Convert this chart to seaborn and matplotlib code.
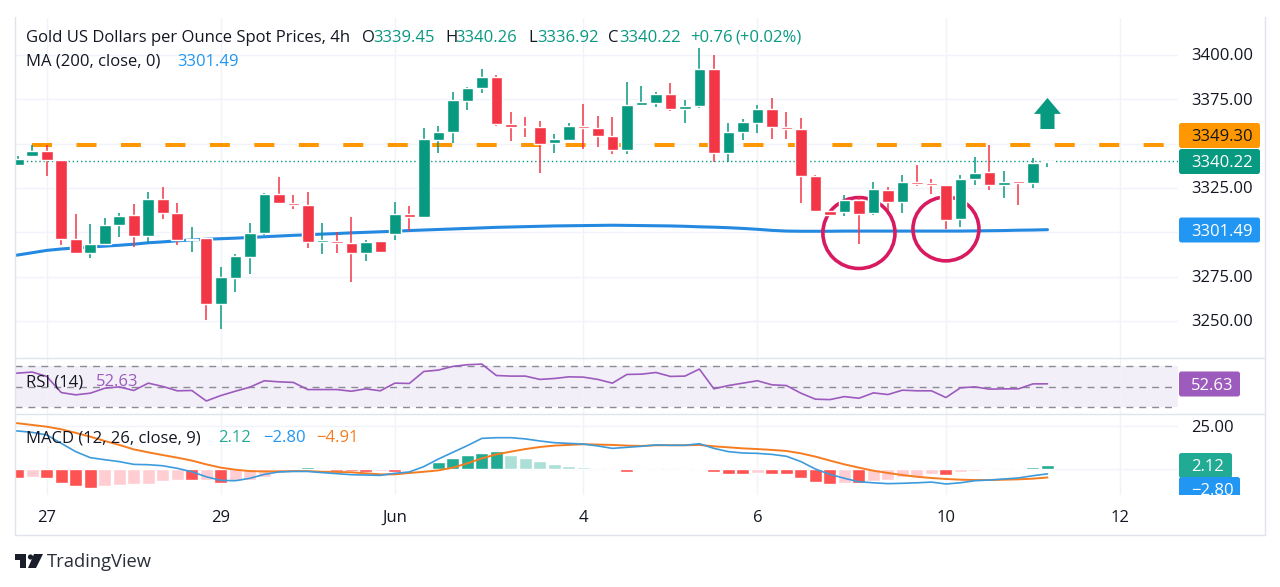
import numpy as np
import pandas as pd
import seaborn as sns
import matplotlib.pyplot as plt
from matplotlib.lines import Line2D
from matplotlib.patches import Ellipse, FancyArrow, FancyBboxPatch, Rectangle, Circle, Polygon
from matplotlib.transforms import IdentityTransform, Bbox

# candles
opens = [3338.0, 3342.8, 3345.9, 3341.0, 3296.0, 3288.3, 3293.2, 3304.3, 3309.6, 3297.7, 3319.0, 3311.1,
         3295.7, 3296.8, 3259.4, 3274.4, 3286.3, 3299.6, 3321.6, 3316.5, 3315.6, 3294.7, 3294.9, 3294.2,
         3288.5, 3294.9, 3299.2, 3310.3, 3308.6, 3352.2, 3356.4, 3374.2, 3381.6, 3387.4, 3361.3, 3360.1,
         3359.2, 3350.4, 3352.2, 3360.1, 3358.8, 3354.3, 3346.4, 3371.6, 3373.1, 3378.0, 3369.7, 3371.4,
         3392.1, 3344.5, 3356.4, 3361.6, 3369.7, 3359.6, 3358.3, 3331.8, 3312.2, 3311.4, 3318.0, 3310.7,
         3323.9, 3317.3, 3328.6, 3327.8, 3326.7, 3307.5, 3330.1, 3333.8, 3326.5, 3328.8, 3327.8, 3339.45]
highs = [3343.2, 3349.2, 3349.2, 3341.0, 3310.3, 3304.7, 3308.1, 3310.7, 3315.8, 3322.5, 3325.7, 3316.3,
         3303.2, 3296.8, 3280.2, 3287.6, 3305.4, 3322.0, 3331.4, 3321.0, 3322.5, 3305.1, 3300.0, 3308.6,
         3295.5, 3295.3, 3316.9, 3315.0, 3358.8, 3360.0, 3379.1, 3382.1, 3392.1, 3388.7, 3367.9, 3365.2,
         3363.0, 3355.4, 3361.5, 3372.4, 3365.6, 3365.0, 3384.6, 3382.5, 3378.9, 3384.2, 3374.6, 3404.0,
         3400.0, 3361.5, 3363.7, 3372.0, 3375.9, 3367.9, 3364.3, 3332.3, 3312.2, 3321.2, 3319.7, 3328.6,
         3325.7, 3332.3, 3338.1, 3329.9, 3326.7, 3332.1, 3342.7, 3349.2, 3334.6, 3328.8, 3341.7, 3340.26]
lows = [3338.0, 3342.8, 3331.9, 3292.6, 3288.3, 3285.5, 3293.2, 3297.5, 3291.9, 3294.1, 3307.3, 3292.6,
        3288.7, 3250.5, 3245.6, 3266.2, 3276.5, 3298.5, 3316.0, 3313.2, 3291.3, 3287.6, 3288.5, 3271.8,
        3283.6, 3288.9, 3295.7, 3300.9, 3308.6, 3344.9, 3350.6, 3369.0, 3378.4, 3360.0, 3351.3, 3353.6,
        3333.3, 3344.9, 3352.1, 3346.8, 3347.9, 3344.2, 3344.2, 3371.2, 3370.9, 3368.2, 3361.5, 3369.9,
        3339.7, 3339.7, 3352.1, 3356.2, 3352.8, 3352.4, 3316.7, 3311.6, 3309.4, 3309.4, 3293.4, 3309.6,
        3312.6, 3310.7, 3326.1, 3321.8, 3301.7, 3302.8, 3326.5, 3323.9, 3319.5, 3315.4, 3324.8, 3336.92]
closes = [3341.2, 3345.9, 3341.0, 3296.0, 3288.3, 3293.4, 3304.3, 3309.2, 3297.7, 3319.0, 3310.9, 3295.7,
          3296.4, 3259.8, 3274.6, 3286.4, 3299.8, 3321.8, 3316.3, 3315.4, 3294.5, 3295.5, 3294.0, 3288.5,
          3294.7, 3289.1, 3310.3, 3308.6, 3352.4, 3356.4, 3374.4, 3381.6, 3387.4, 3361.1, 3359.6, 3359.4,
          3350.0, 3352.4, 3360.0, 3358.8, 3354.3, 3346.4, 3371.8, 3373.5, 3378.0, 3369.7, 3371.0, 3392.1,
          3344.5, 3356.4, 3362.0, 3369.7, 3359.2, 3358.3, 3332.0, 3312.2, 3309.8, 3318.0, 3310.5, 3324.2,
          3317.3, 3328.6, 3327.1, 3326.9, 3307.1, 3330.3, 3333.5, 3326.5, 3328.6, 3328.0, 3339.3, 3340.22]
# the indicator lines start one bar before the first visible candle
ma200 = [3286.4, 3287.2, 3288.5, 3289.8, 3290.6, 3291.2, 3291.7, 3292.2, 3292.7, 3293.3, 3294.1, 3294.6, 3295.2,
         3295.7, 3296.1, 3296.4, 3296.7, 3297.1, 3297.5, 3297.9, 3298.3, 3298.6, 3299.0, 3299.3, 3299.7,
         3300.0, 3300.3, 3300.6, 3301.0, 3301.3, 3301.6, 3301.9, 3302.2, 3302.5, 3302.8, 3303.0, 3303.2,
         3303.4, 3303.6, 3303.7, 3303.8, 3303.9, 3304.0, 3303.9, 3303.8, 3303.7, 3303.6, 3303.4, 3303.1,
         3302.9, 3302.6, 3302.2, 3301.7, 3301.1, 3300.7, 3300.6, 3300.6, 3300.6, 3300.7, 3300.7, 3300.7,
         3300.7, 3300.7, 3300.7, 3300.7, 3300.7, 3300.7, 3300.8, 3300.9, 3301.0, 3301.2, 3301.3, 3301.49]
rsi = [62.5, 63.0, 64.0, 59.8, 44.2, 42.0, 43.6, 48.4, 49.7, 46.2, 53.3, 50.1, 45.9,
       46.2, 36.1, 41.3, 45.5, 49.4, 55.6, 54.6, 54.0, 47.1, 47.1, 47.1, 45.5,
       47.8, 45.9, 53.3, 53.0, 64.6, 65.9, 69.5, 71.1, 71.7, 60.7, 60.1, 60.1,
       56.9, 57.8, 59.4, 59.1, 56.9, 53.3, 61.7, 62.0, 63.6, 59.8, 60.1, 66.9,
       47.8, 51.0, 53.3, 55.6, 51.7, 51.0, 43.6, 37.8, 37.4, 40.3, 38.7, 43.9,
       42.3, 46.5, 45.9, 45.9, 39.4, 48.8, 49.7, 47.5, 47.8, 47.8, 52.6, 52.63]
macd_line = [22.6, 22.1, 21.3, 19.8, 14.9, 10.1, 6.6, 5.4, 4.3, 2.7, 2.5, 1.9, 0.4,
             -1.6, -4.5, -6.6, -6.8, -5.4, -3.1, -1.7, -1.4, -1.4, -2.1, -2.7, -3.3,
             -3.5, -3.7, -2.5, -1.7, 1.4, 5.8, 9.7, 13.6, 17.8, 18.2, 18.2, 17.5,
             16.3, 15.3, 14.9, 14.5, 13.4, 12.0, 12.6, 13.2, 14.0, 13.8, 13.8, 14.7,
             12.0, 10.1, 9.3, 9.1, 8.5, 7.4, 4.3, 0.0, -3.1, -5.4, -7.4, -8.0,
             -8.5, -8.3, -8.0, -7.6, -8.7, -8.0, -6.8, -6.4, -5.8, -5.2, -3.9, -2.80]
signal_line = [27.1, 26.6, 25.6, 24.6, 23.1, 21.0, 18.8, 16.3, 14.0, 11.4, 9.7, 8.1, 6.6,
               4.9, 2.7, 0.8, -0.4, -1.2, -1.4, -1.4, -1.2, -1.2, -1.6, -1.7, -1.9,
               -2.5, -3.1, -3.1, -2.3, -1.6, -0.8, 0.8, 3.3, 6.2, 8.5, 10.1, 11.6,
               12.8, 13.6, 14.0, 14.4, 14.2, 14.0, 13.6, 13.4, 13.8, 13.8, 13.8, 14.0,
               13.2, 12.6, 12.0, 11.6, 11.1, 10.5, 9.1, 7.2, 4.9, 2.7, 0.8, -1.0,
               -2.3, -3.5, -4.5, -5.2, -5.8, -6.2, -6.4, -6.4, -6.2, -6.0, -5.6, -4.91]
hist = [-5.0, -4.7, -5.0, -8.1, -10.1, -10.9, -9.9, -9.1, -8.9, -8.7, -7.2, -6.2,
        -6.2, -6.2, -8.1, -7.0, -6.6, -4.5, -2.5, 0.4, 0.9, -0.4, -1.2, -1.2,
        -1.8, -1.3, -1.8, 0.3, 0.8, 3.9, 6.2, 8.1, 9.5, 10.5, 8.3, 6.6,
        4.9, 2.9, 1.7, 1.0, 0.2, -0.6, -1.8, -0.8, 0.3, 0.1, -0.5, 0.8,
        -1.9, -3.1, -3.1, -2.5, -3.1, -3.1, -5.0, -7.4, -8.7, -8.3, -8.3, -7.0,
        -6.4, -4.9, -4.5, -3.1, -3.5, -1.9, -1.0, -0.4, 0.3, 0.6, 1.4, 2.12]
# R/r strong and pale red, G/g strong and pale green
hist_kind = list("RrRRRR" "rrrrrr" "RrR" "rrrr" "GG" "rRRRrR" "GGGGGGG" "ggggggg"
                 "RRr" "GgRG" "RRRrRRRRR" "rR" "rrrrr" "R" "rrr" "GGGG")

price_ticks = [3250, 3275, 3300, 3325, 3350, 3375, 3400]
price_labels = ["3250.00", "3275.00", "", "3325.00", "", "3375.00", "3400.00"]
time_ticks = [2, 14, 26, 39, 51, 64, 76]
time_labels = ["27", "29", "Jun", "4", "6", "10", "12"]
resistance = 3349.30
last_close = 3340.22

GREEN = "#089981"
RED = "#f23645"
BLUE = "#2196f3"
ORANGE = "#ff9800"
PURPLE = "#9c5bbd"
TEXT = "#131722"
GRID = "#f0f3fa"
EDGE = "#e0e3eb"
W, H = 1280, 587
FONT = "Open Sans"
FS = 12.0
X0, X1 = -0.19, 80.0

sns.set_theme(style="white")
plt.rcParams["font.family"] = [FONT, "DejaVu Sans"]

fig = plt.figure(figsize=(W / 100, H / 100), dpi=100)


def pane(top, bottom, left=15, right=1178):
    ax = fig.add_axes([left / W, 1 - bottom / H, (right - left) / W, (bottom - top) / H])
    ax.set_facecolor("none")
    for s in ax.spines.values():
        s.set_visible(False)
    ax.set_xlim(X0, X1)
    ax.set_xticks(time_ticks)
    ax.grid(True, color=GRID, lw=1)
    ax.set_axisbelow(True)
    ax.tick_params(length=0, labelbottom=False, labelleft=False)
    return ax


def px_text(x, y, s, color=TEXT, size=FS, **kw):
    # +1.5 because va=center sits a bit high for digits
    return fig.text(x, H - y - 1.5, s, color=color, fontsize=size, va="center", ha=kw.pop("ha", "left"),
                    transform=IdentityTransform(), **kw)


def tag(y, s, color, right=1260, fg="white", clip=None):
    box = FancyBboxPatch((1179, H - y - 12.5), right - 1179, 25, boxstyle="round,pad=0,rounding_size=2.5",
                         fc=color, ec="none", transform=IdentityTransform())
    fig.add_artist(box)
    t = px_text(1191, y, s, color=fg)
    if clip is not None:
        bb = Bbox([[1170, H - clip], [1270, H - clip + 40]])
        box.set_clip_box(bb)
        box.set_clip_on(True)
        t.set_clip_box(bb)
        t.set_clip_on(True)


candles = pd.DataFrame({"i": np.arange(len(opens)), "open": opens, "high": highs, "low": lows,
                        "close": closes, "hist": hist, "kind": hist_kind})
lines = pd.DataFrame({"i": np.arange(-1, len(opens)), "ma": ma200, "rsi": rsi,
                      "macd": macd_line, "signal": signal_line})
colors = [GREEN if c >= o else RED for o, c in zip(opens, closes)]

# main price pane
ax = pane(18, 358)
ax.set_ylim(3229.1, 3420.9)
ax.set_yticks(price_ticks)
sns.lineplot(data=lines, x="i", y="ma", color="#2489e0", lw=2.2, errorbar=None, ax=ax, zorder=2)
ax.plot([1, X1], [resistance, resistance], color=ORANGE, lw=2.9, ls=(0, (4.97, 6.07)),
        dash_capstyle="butt", zorder=2)
ax.plot([0, X1], [last_close, last_close], color=GREEN, lw=1, ls=(0, (1, 2)), zorder=2)
ax.add_patch(Ellipse((58.0, 3299.6), 4.97, 40, fc="none", ec="#d81b60", lw=2.6, zorder=2.5))
ax.add_patch(Ellipse((64.0, 3301.9), 4.55, 36, fc="none", ec="#d81b60", lw=2.6, zorder=2.5))
ax.vlines(candles["i"], candles["low"], candles["high"], colors=colors, lw=1.1, zorder=3)
ax.bar(candles["i"], np.abs(candles["close"] - candles["open"]),
       bottom=candles[["open", "close"]].min(axis=1), width=0.8, color=colors, zorder=4)
ax.add_patch(FancyArrow(71, 3358.3, 0, 17.5, width=0.97, head_width=1.86, head_length=9,
                        length_includes_head=True, fc=GREEN, ec="none", zorder=5))
ax.set_xlim(X0, X1)
ax.set_xlabel("")
ax.set_ylabel("")
for y, lab in zip(price_ticks, price_labels):
    if lab:
        px_text(1191, 55 + (3400 - y) * 1.773, lab)

# rsi pane
ax_rsi = pane(358, 414.3)
ax_rsi.set_ylim(23.2, 77.6)
ax_rsi.set_yticks([])
ax_rsi.axhspan(30, 70, color="#f3eff9", lw=0, zorder=0)
for lev in [30, 50, 70]:
    ax_rsi.axhline(lev, color="#8a8d96", lw=1, ls=(0, (5, 4.3)), zorder=1)
sns.lineplot(data=lines, x="i", y="rsi", color=PURPLE, lw=1.2, errorbar=None, ax=ax_rsi, zorder=3)
ax_rsi.set_xlim(X0, X1)
ax_rsi.set_xlabel("")
ax_rsi.set_ylabel("")

# macd pane
ax_macd = pane(414.3, 495)
sns.barplot(data=candles, x="i", y="hist", hue="kind", hue_order=["R", "r", "G", "g"],
            palette={"R": "#ff5252", "r": "#ffcdd2", "G": "#22ab94", "g": "#acdfd8"},
            dodge=False, native_scale=True, width=0.9, saturation=1, legend=False,
            errorbar=None, ax=ax_macd, zorder=2)
sns.lineplot(data=lines, x="i", y="signal", color="#f57c20", lw=1.4, errorbar=None, ax=ax_macd, zorder=3)
sns.lineplot(data=lines, x="i", y="macd", color="#3d9bdc", lw=1.2, errorbar=None, ax=ax_macd, zorder=4)
ax_macd.set_xlim(X0, X1)
ax_macd.set_xticks(time_ticks)
ax_macd.set_ylim(-15.1, 31.8)
ax_macd.set_yticks([0, 25])
ax_macd.grid(True, color=GRID, lw=1)
ax_macd.tick_params(length=0, labelbottom=False, labelleft=False)
ax_macd.set_xlabel("")
ax_macd.set_ylabel("")
for s in ax_macd.spines.values():
    s.set_visible(False)
px_text(1191, 426, "25.00")

# time labels
for t, lab in zip(time_ticks, time_labels):
    px_text(ax.transData.transform((t, 3300))[0], 516, lab, ha="center")

# frame and pane separators
for xs, ys in [([15, 15], [17, 535]), ([1265, 1265], [17, 535]), ([15, 1265], [535, 535]),
               ([15, 1265], [358, 358]), ([15, 1265], [414, 414])]:
    fig.add_artist(Line2D(xs, [H - v for v in ys], color=EDGE, lw=1, transform=IdentityTransform()))

# header pieces
px_text(26, 36, "Gold US Dollars per Ounce Spot Prices, 4h")
for x, s, c in [(362, "O", TEXT), (373, "3339.45", GREEN), (445, "H", TEXT), (455, "3340.26", GREEN),
                (528, "L", TEXT), (537, "3336.92", GREEN), (608, "C", TEXT), (619, "3340.22", GREEN),
                (690, "+0.76", GREEN), (735, "(+0.02%)", GREEN)]:
    px_text(x, 36, s, color=c)
px_text(26, 60, "MA (200, close, 0)")
px_text(177, 60, "3301.49", color=BLUE)
px_text(26, 381, "RSI (14)")
px_text(96, 381, "52.63", color=PURPLE)
px_text(26, 437, "MACD (12, 26, close, 9)")
px_text(218, 437, "2.12", color="#22ab94")
px_text(263, 437, "\u22122.80", color=BLUE)
px_text(316, 437, "\u22124.91", color="#f57c20")

# value tags on the right
tag(135.5, "3349.30", ORANGE, fg=TEXT)
tag(161.5, "3340.22", GREEN)
tag(230, "3301.49", BLUE)
tag(384, "52.63", PURPLE, right=1240)
tag(465.5, "2.12", "#22ab94", right=1232)
tag(489.5, "\u22122.80", BLUE, right=1240, clip=495)

# tradingview mark
logo = "#1a1e2b"
fig.add_artist(Rectangle((15, H - 560), 11, 6, fc=logo, ec="none", transform=IdentityTransform()))
fig.add_artist(Rectangle((20, H - 568), 6, 9, fc=logo, ec="none", transform=IdentityTransform()))
fig.add_artist(Circle((30.5, H - 557), 2.6, fc=logo, ec="none", transform=IdentityTransform()))
fig.add_artist(Polygon([(34, H - 554), (43, H - 554), (36, H - 568), (28, H - 568)], fc=logo, ec="none",
                       transform=IdentityTransform()))
px_text(47, 560.5, "TradingView", color="#2a2e39", size=13.2, fontweight="medium")

fig.savefig("out.png", dpi=100, facecolor="white")
